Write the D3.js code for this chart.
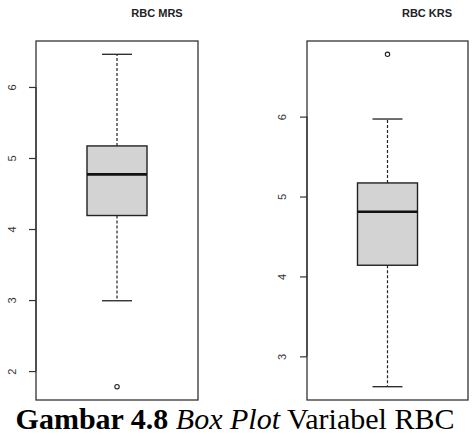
<!DOCTYPE html>
<html>
<head>
<meta charset="utf-8">
<script src="https://cdn.jsdelivr.net/npm/d3@7"></script>
<style>
body{margin:0;background:#fff;}
svg{display:block;}
</style>
</head>
<body>
<svg id="chart" width="472" height="437"></svg>
<script>
// data
var titles = ["RBC MRS", "RBC KRS"];
var stats = [
  {lo: 2.99, q1: 4.19, med: 4.77, q3: 5.17, hi: 6.46},
  {lo: 2.62, q1: 4.14, med: 4.81, q3: 5.17, hi: 5.97}
];
var outliers = [[1.78], [6.78]];
var tickVals = [[2, 3, 4, 5, 6], [3, 4, 5, 6]];

var svg = d3.select("#chart");

// panel layout
var panels = [
  {x0: 36, x1: 198, titleX: 157, labelX: 12},
  {x0: 307, x1: 468, titleX: 427, labelX: 282}
];
var plotTop = 41, plotBottom = 400;

panels.forEach(function(p, i){
  var s = stats[i];
  var all = [s.lo, s.hi].concat(outliers[i]);
  var mn = d3.min(all), mx = d3.max(all);
  var pad = (mx - mn) * 0.04; // R style range extension
  var y = d3.scaleLinear().domain([mn - pad, mx + pad]).range([plotBottom, plotTop]);
  var g = svg.append("g");

  var cx = (p.x0 + p.x1) / 2;
  var bw = 60; // box width
  var cw = bw / 2;

  // whiskers
  g.append("line").attr("x1", cx).attr("x2", cx).attr("y1", y(s.q3)).attr("y2", y(s.hi))
    .style("stroke", "#222").style("stroke-width", 1.2).style("stroke-dasharray", "3,2");
  g.append("line").attr("x1", cx).attr("x2", cx).attr("y1", y(s.q1)).attr("y2", y(s.lo))
    .style("stroke", "#222").style("stroke-width", 1.2).style("stroke-dasharray", "3,2");
  [s.lo, s.hi].forEach(function(v){
    g.append("line").attr("x1", cx - cw/2).attr("x2", cx + cw/2).attr("y1", y(v)).attr("y2", y(v))
      .style("stroke", "#222").style("stroke-width", 1.3);
  });

  // box
  g.append("rect").attr("x", cx - bw/2).attr("width", bw)
    .attr("y", y(s.q3)).attr("height", y(s.q1) - y(s.q3))
    .style("fill", "#d3d3d3").style("stroke", "#222").style("stroke-width", 1.4);
  g.append("line").attr("x1", cx - bw/2).attr("x2", cx + bw/2).attr("y1", y(s.med)).attr("y2", y(s.med))
    .style("stroke", "#111").style("stroke-width", 2.6);

  // outliers
  g.selectAll(".out").data(outliers[i]).enter().append("circle")
    .attr("cx", cx).attr("cy", function(d){ return y(d); }).attr("r", 2.2)
    .style("fill", "none").style("stroke", "#222").style("stroke-width", 1.1);

  // frame
  g.append("rect").attr("x", p.x0).attr("y", plotTop).attr("width", p.x1 - p.x0).attr("height", plotBottom - plotTop)
    .style("fill", "none").style("stroke", "#333").style("stroke-width", 1.3);

  // axis
  var axis = d3.axisLeft(y).tickValues(tickVals[i]).tickSize(7).tickPadding(9);
  var ax = g.append("g").attr("transform", "translate(" + p.x0 + ",0)").call(axis);
  ax.select(".domain").attr("d", "M0," + y(d3.min(tickVals[i])) + "V" + y(d3.max(tickVals[i])))
    .style("stroke", "#333").style("stroke-width", 1.2);
  ax.selectAll(".tick line").style("stroke", "#333").style("stroke-width", 1.2);
  ax.selectAll(".tick text").remove();
  ax.selectAll(".tick").append("text")
    .attr("transform", "translate(" + (p.labelX - p.x0) + ",0) rotate(-90)")
    .attr("text-anchor", "middle").attr("dy", "0.35em")
    .style("font-family", "Liberation Sans, Arial, sans-serif").style("font-size", "11px").style("fill", "#333")
    .text(function(d){ return d; });

  // title
  svg.append("text").attr("x", p.titleX).attr("y", 17).attr("text-anchor", "middle")
    .style("font-family", "Liberation Sans, Arial, sans-serif").style("font-weight", "bold")
    .style("font-size", "11px").style("fill", "#222").text(titles[i]);
});

// caption
var cap = svg.append("text").attr("x", 235).attr("y", 429).attr("text-anchor", "middle")
  .style("font-family", "Liberation Serif, Times New Roman, serif").style("font-size", "30px").style("fill", "#000");
cap.append("tspan").style("font-weight", "bold").text("Gambar 4.8 ");
cap.append("tspan").style("font-style", "italic").text("Box Plot");
cap.append("tspan").text(" Variabel RBC");
</script>
</body>
</html>
